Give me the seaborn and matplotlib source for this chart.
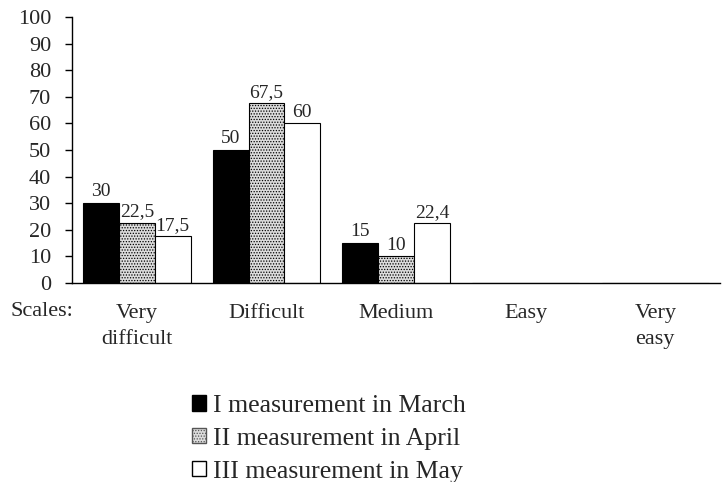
import matplotlib
matplotlib.use("Agg")
import matplotlib.pyplot as plt
import seaborn as sns
import pandas as pd
from matplotlib.patches import Patch

categories = ["Very\ndifficult", "Difficult", "Medium", "Easy", "Very\neasy"]
series_names = ["I measurement in March", "II measurement in April", "III measurement in May"]
march = [30, 50, 15, 0, 0]
april = [22.5, 67.5, 10, 0, 0]
may = [17.5, 60, 22.4, 0, 0]
y_ticks = [0, 10, 20, 30, 40, 50, 60, 70, 80, 90, 100]

rows = []
for name, vals in zip(series_names, [march, april, may]):
    for c, v in zip(categories, vals):
        rows.append({"scale": c, "value": v, "series": name})
df = pd.DataFrame(rows)

sns.set_theme(style="white")
plt.rcParams["font.family"] = ["Liberation Serif", "DejaVu Serif"]
plt.rcParams["hatch.color"] = "#777777"
plt.rcParams["hatch.linewidth"] = 0.6

fig = plt.figure(figsize=(7.23, 4.82), dpi=100)
ax = fig.add_axes([72 / 723, 1 - 283 / 482, 1 - 72 / 723 - 0.004, (283 - 17) / 482])

palette = {series_names[0]: "black", series_names[1]: "#dcdcdc", series_names[2]: "white"}
sns.barplot(data=df, x="scale", y="value", hue="series", order=categories,
            hue_order=series_names, palette=palette, width=0.83, dodge=True,
            edgecolor="black", linewidth=0.8, legend=False, ax=ax, errorbar=None)

hatches = ["", "......", ""]
for container, h in zip(ax.containers, hatches):
    for bar in container:
        bar.set_hatch(h)
    labels = [("" if v == 0 else (f"{v:g}".replace(".", ","))) for v in container.datavalues]
    ax.bar_label(container, labels=labels, padding=2, fontsize=14)

ax.set_ylim(0, 100)
ax.set_yticks(y_ticks)
ax.set_xlim(-0.5, 4.5)
ax.set_xlabel("")
ax.set_ylabel("")
ax.tick_params(axis="y", left=True, length=5, width=1, labelsize=16, pad=10, color="black")
ax.tick_params(axis="x", bottom=False, labelsize=16, pad=9)
for lbl in ax.get_xticklabels():
    lbl.set_linespacing(1.5)
for s in ["top", "right"]:
    ax.spines[s].set_visible(False)
ax.spines["left"].set_color("black")
ax.spines["bottom"].set_color("black")
ax.spines["left"].set_linewidth(1)
ax.spines["bottom"].set_linewidth(1)

fig.text(10 / 723, 1 - 311 / 482, "Scales:", fontsize=16, ha="left", va="center")

handles = [Patch(facecolor="black", edgecolor="black"),
           Patch(facecolor="#dcdcdc", edgecolor="#555555", hatch="......"),
           Patch(facecolor="white", edgecolor="black")]
fig.legend(handles, series_names, loc="upper left", bbox_to_anchor=(192 / 723, 1 - 395 / 482),
           frameon=False, fontsize=18.5, handlelength=0.55, handleheight=0.55,
           handletextpad=0.28, labelspacing=0.42, borderpad=0, borderaxespad=0)

fig.savefig("out.png", dpi=100)
